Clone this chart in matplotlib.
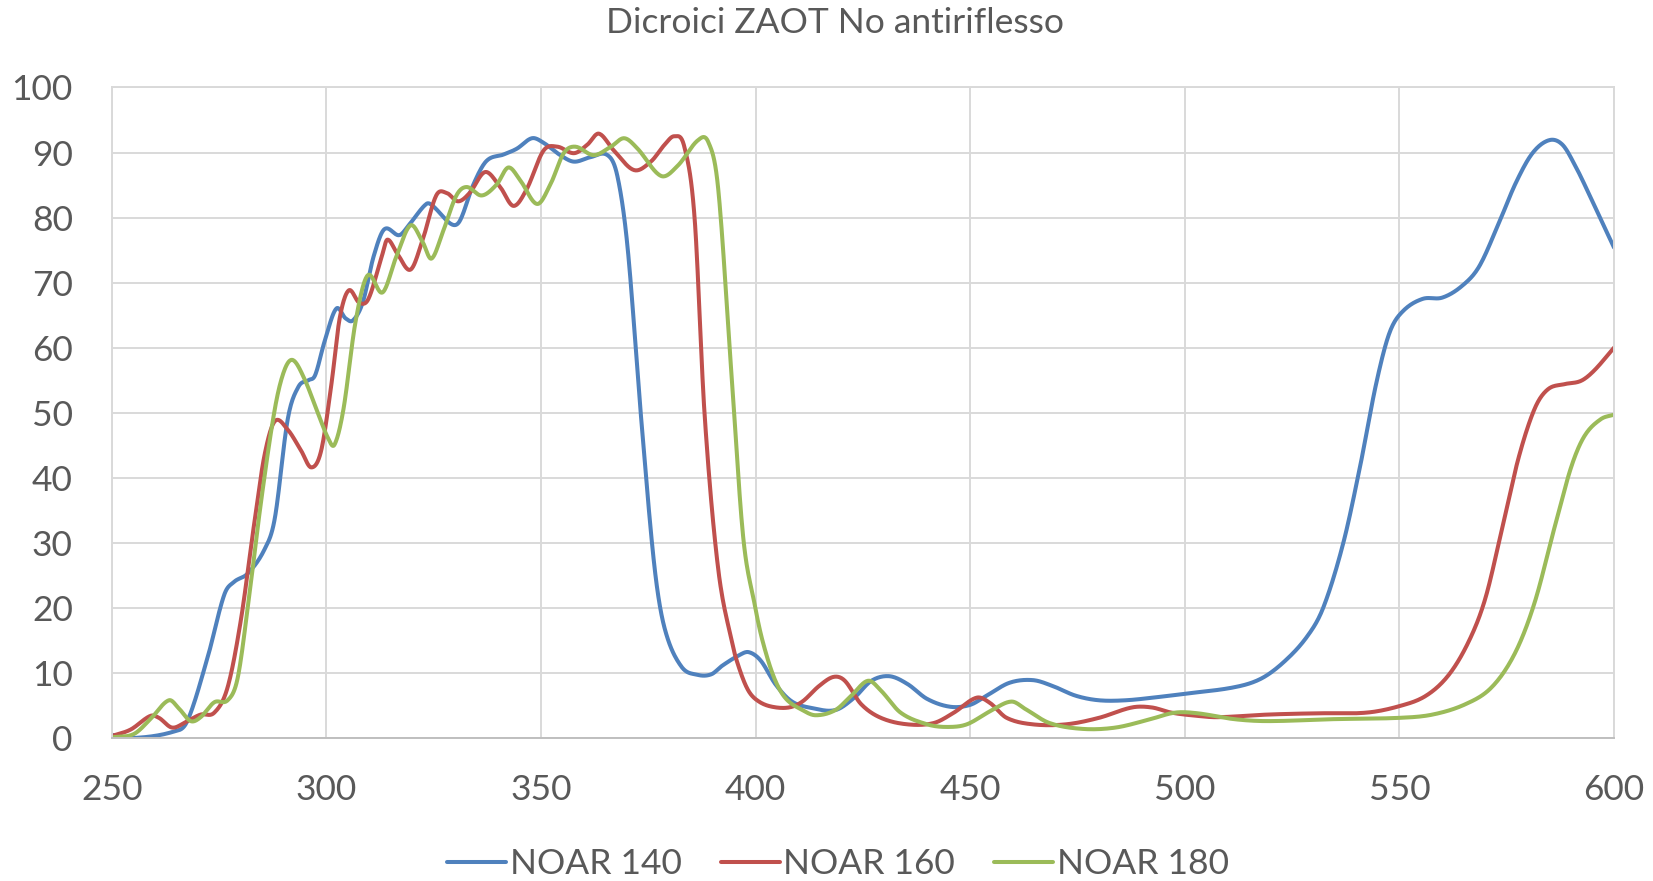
import matplotlib
matplotlib.use("Agg")
import matplotlib.pyplot as plt
import numpy as np

# valori (lunghezza d'onda nm, trasmittanza %)
x_140 = [250, 255, 264.5, 267.6, 272.3, 276.2, 278.5, 281.7, 285.6, 288, 291, 293.5, 295.8, 297.4,
         299.6, 302.3, 304.5, 306.2, 308.5, 311, 313.5, 317, 319.4, 323.3, 324.8, 329.1, 331.1,
         334.2, 337.3, 341.3, 344.4, 347.9, 350.6, 354.5, 357.7, 361.6, 365.5, 367.8, 370.2,
         373.3, 376.4, 378.8, 382.7, 386.6, 389.7, 392.2, 396.1, 398.4, 401.2, 404.7, 408.5,
         413.2, 418.6, 423, 427, 431.2, 435.4, 440, 445.4, 450, 453.8, 459.2, 464.6, 469.2, 474.6,
         480, 486.2, 493.8, 500, 511.5, 517.7, 523.1, 528.5, 532.3, 536.9, 540.8, 544.6, 547.7,
         550.8, 555.4, 560, 564.6, 568.6, 573.2, 577.1, 581, 584.9, 588, 591.1, 594.2, 597.3, 600]
y_140 = [0.5, 0, 1, 2.6, 12.3, 22, 24, 25.3, 29, 33.8, 49, 54, 55, 55.8,
         61, 66, 64.5, 64.2, 67, 74, 78.2, 77.3, 79, 82.1, 81.8, 79, 79.5,
         85, 88.7, 89.7, 90.6, 92.2, 91.5, 89.6, 88.6, 89.3, 89.6, 86.4, 75.3,
         49.5, 26.6, 16.9, 11, 9.7, 9.8, 11.1, 12.7, 13.2, 11.9, 8.2, 5.6,
         4.6, 4.3, 6.2, 8.8, 9.5, 8.3, 6, 4.8, 5.1, 6.5, 8.5, 8.9, 8, 6.5,
         5.8, 5.8, 6.3, 6.8, 7.8, 9.1, 11.7, 15.6, 20.1, 29.9, 41.6, 54.5, 62.3,
         65.6, 67.5, 67.7, 69.5, 72.5, 79.2, 85.3, 89.9, 91.9, 91.2, 87.8, 83.6, 79.2, 75.4]

x_160 = [250, 254.4, 259, 261, 264.1, 267.6, 270.7, 273.9, 277, 280.1, 283.2, 285.6, 288, 291,
         294.1, 296.5, 298.8, 301.2, 303.1, 305.2, 307.7, 309.8, 312.9, 314.2, 316.5, 319.6,
         322.4, 325.6, 328, 330.7, 333.4, 337, 340.5, 343.6, 346.7, 350.6, 353.8, 357.7, 360.8,
         363.5, 367, 371.7, 375.6, 378.8, 381.1, 383.4, 385.8, 388.1, 391.2, 394.4,
         396.3, 398.4, 400.8, 403.9, 407.8, 410.9, 414.8, 418.2, 420.8, 424.6, 429.2, 435.4,
         441.5, 446.2, 451.5, 454.6, 458.5, 464.6, 472.3, 480, 487.7, 492.3, 496.9, 503, 507.7,
         519.2, 530.8, 542.3, 550, 556.2, 561.5, 566.2, 570, 573.8, 577.7, 581.5, 584.6, 588.5,
         592.3, 595.4, 600]
y_160 = [0.3, 1.3, 3.4, 3.1, 1.6, 2.6, 3.6, 3.9, 7.8, 18.2, 33, 43.5, 48.7, 47.4,
         44.2, 41.6, 44.2, 54.5, 64.5, 68.8, 66.9, 67.5, 74, 76.6, 74.5, 72,
         76.5, 83.4, 83.8, 82.5, 83.8, 87, 84.7, 81.8, 84.4, 90.3, 90.9, 89.9, 91.2,
         92.9, 90.3, 87.3, 88.6, 91.2, 92.5, 90.9, 79.9, 50, 26.5, 15,
         10.5, 7.2, 5.6, 4.8, 4.7, 5.6, 8, 9.4, 8.8, 5.2, 3.1, 2.1,
         2.3, 3.9, 6.2, 5.4, 3.1, 2.1, 2.1, 3.1, 4.7, 4.7, 3.9, 3.4, 3.2,
         3.6, 3.8, 3.9, 4.9, 6.5, 9.7, 14.9, 21.4, 31.8, 42.9, 50.6, 53.6, 54.4,
         54.9, 56.5, 60]

x_180 = [250, 255.1, 259, 263.3, 265.7, 268.4, 270.7, 273.9, 277, 279.3, 281.7, 284.8, 288,
         290.2, 292.2, 294.9, 298, 300.4, 301.9, 304, 306.8, 309.6, 313.1, 316.3, 319.6,
         322.4, 324.5, 327.2, 330.3, 332.7, 336.2, 339.7, 342.4, 345.2, 349.1, 352.2, 355.3,
         358, 362.3, 366.3, 369.4, 372.5, 378, 381.9, 386.6, 389, 391.3, 394.4, 397.1, 399.8,
         401.6, 404.3, 407, 410.9, 414, 418.6, 422.3, 426.2, 429.2, 433.8, 440, 444.6, 449.2,
         454.6, 459.6, 463, 468.5, 476.2, 483.8, 491.5, 497.7, 503, 511.5, 519.2, 534.6,
         550, 557.7, 565.4, 571.5, 576.9, 581.5, 586.2, 590, 593.1, 596.9, 600]
y_180 = [0.1, 0.6, 2.9, 5.8, 4.5, 2.6, 3.2, 5.5, 5.8, 9.1, 20.1, 36.4, 50.6,
         56.5, 58.1, 55.2, 50, 46.1, 45.1, 50.6, 64, 71.1, 68.5, 74, 78.8,
         76.3, 73.7, 77.9, 83.4, 84.7, 83.4, 85.1, 87.7, 85.7, 82.1, 85.1, 89.9,
         90.9, 89.6, 90.9, 92.2, 90.6, 86.4, 88, 91.9, 91.6, 84.4, 55.8, 31, 20.5,
         15, 9.3, 6.1, 4.3, 3.5, 4.3, 6.5, 8.8, 7.3, 3.9, 2.1, 1.7, 2.1,
         4.1, 5.6, 4.4, 2.3, 1.4, 1.6, 2.8, 3.9, 3.8, 2.9, 2.6, 2.9,
         3.1, 3.6, 5.2, 7.8, 13, 20.8, 32.5, 41.6, 46.4, 49, 49.7]

series = ["NOAR 140", "NOAR 160", "NOAR 180"]
colori = ["#4F81BD", "#C0504D", "#9BBB59"]
x_ticks = [250, 300, 350, 400, 450, 500, 550, 600]
y_ticks = [0, 10, 20, 30, 40, 50, 60, 70, 80, 90, 100]


def linea_smussata(x, y, n=20):
    # curva di Hermite come la "linea smussata" di Excel
    x = np.asarray(x, float)
    y = np.asarray(y, float)
    m = np.zeros_like(y)
    m[1:-1] = (y[2:] - y[:-2]) / (x[2:] - x[:-2])
    m[0] = (y[1] - y[0]) / (x[1] - x[0])
    m[-1] = (y[-1] - y[-2]) / (x[-1] - x[-2])
    xs, ys = [], []
    for i in range(len(x) - 1):
        h = x[i + 1] - x[i]
        t = np.linspace(0, 1, n, endpoint=False)
        h00 = 2 * t**3 - 3 * t**2 + 1
        h10 = t**3 - 2 * t**2 + t
        h01 = -2 * t**3 + 3 * t**2
        h11 = t**3 - t**2
        xs.append(x[i] + t * h)
        ys.append(h00 * y[i] + h10 * h * m[i] + h01 * y[i + 1] + h11 * h * m[i + 1])
    xs.append([x[-1]])
    ys.append([y[-1]])
    return np.concatenate(xs), np.concatenate(ys)


plt.rcParams['font.family'] = ['Lato', 'DejaVu Sans']
grigio = "#595959"
fs = 25.5

fig = plt.figure(figsize=(16.53, 8.81), dpi=100)
ax = fig.add_axes([0.0676, 0.1623, 0.9088, 0.7384])

for xx, yy, nome, col in zip([x_140, x_160, x_180], [y_140, y_160, y_180], series, colori):
    sx, sy = linea_smussata(xx, yy)
    ax.plot(sx, sy, color=col, lw=2.9, label=nome, solid_capstyle='round')

ax.set_xlim(250, 600)
ax.set_ylim(0, 100)
ax.set_xticks(x_ticks)
ax.set_yticks(y_ticks)
ax.grid(True, color="#d9d9d9", lw=1.4)
ax.set_axisbelow(True)
for s in ax.spines.values():
    s.set_color("#d9d9d9")
    s.set_linewidth(1.4)
ax.spines['bottom'].set_color("#bfbfbf")
ax.tick_params(length=0, labelsize=fs, labelcolor=grigio)
ax.tick_params(axis='x', pad=26)
ax.tick_params(axis='y', pad=28)

fig.text(0.505, 0.974, "Dicroici ZAOT No antiriflesso", ha='center', va='center',
         fontsize=fs, color=grigio)

leg = fig.legend(loc='center', bbox_to_anchor=(0.507, 0.019), ncol=3, frameon=False,
                 fontsize=fs, handlelength=1.67, handletextpad=0.1, columnspacing=1.1)
for t in leg.get_texts():
    t.set_color(grigio)

fig.savefig("out.png", dpi=100)
